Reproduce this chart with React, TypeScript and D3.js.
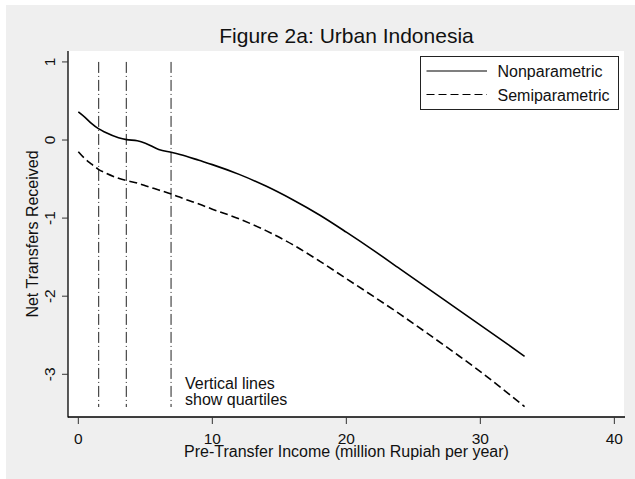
import React from "react";
import * as d3 from "d3";

const incomeGrid = [0, 0.5, 1, 1.5, 2, 3, 3.6, 4.4, 5, 6, 7, 8, 9, 10, 12, 14, 16, 18, 20, 22, 24, 26, 28, 30, 32, 33.3];
const nonparametric = [0.36, 0.29, 0.21, 0.145, 0.1, 0.03, 0.005, -0.01, -0.04, -0.12, -0.16, -0.205, -0.26, -0.315, -0.44, -0.59, -0.765, -0.96, -1.18, -1.41, -1.65, -1.89, -2.13, -2.37, -2.61, -2.77];
const semiparametric = [-0.15, -0.24, -0.31, -0.375, -0.42, -0.49, -0.52, -0.55, -0.585, -0.64, -0.695, -0.76, -0.82, -0.885, -1.01, -1.16, -1.34, -1.55, -1.775, -2.0, -2.23, -2.47, -2.715, -2.965, -3.235, -3.415];
const quartiles = [1.52, 3.58, 6.92];
const xTicks = [0, 10, 20, 30, 40];
const yTicks = [1, 0, -1, -2, -3];
const seriesNames = ["Nonparametric", "Semiparametric"];

const FONT = "'Liberation Sans', Arial, sans-serif";

export default function App() {
  const W = 635, H = 479;
  const left = 68, right = 624, top = 51, bottom = 417;
  const x = d3.scaleLinear().domain([-0.77, 40.72]).range([left, right]);
  const y = d3.scaleLinear().domain([-3.547, 1.14]).range([bottom, top]);
  const line = d3.line<[number, number]>().x(d => x(d[0])).y(d => y(d[1])).curve(d3.curveMonotoneX);
  const np = line(incomeGrid.map((v, i) => [v, nonparametric[i]]) as [number, number][]) || "";
  const sp = line(incomeGrid.map((v, i) => [v, semiparametric[i]]) as [number, number][]) || "";

  return (
    <svg width={W} height={H} style={{ position: "absolute", left: 0, top: 0, display: "block" }} fontFamily={FONT}>
      <rect x={0} y={0} width={W} height={H} fill="#ffffff" />
      <rect x={6} y={5} width={W - 6} height={H - 5} fill="#efefef" />
      <rect x={left} y={top} width={right - left} height={bottom - top} fill="#ffffff" />
      <text x={346.5} y={42.5} textAnchor="middle" fontSize={21} fill="#111">Figure 2a: Urban Indonesia</text>

      {quartiles.map((q, i) => (
        <line key={i} x1={x(q)} x2={x(q)} y1={y(1)} y2={407} stroke="#222" strokeWidth={1} strokeDasharray="11,3,1,3" />
      ))}

      <path d={np} fill="none" stroke="#000" strokeWidth={1.6} />
      <path d={sp} fill="none" stroke="#000" strokeWidth={1.6} strokeDasharray="8,4" />

      {/* axes */}
      <line x1={left} x2={left} y1={top} y2={bottom + 0.5} stroke="#000" strokeWidth={1.3} />
      <line x1={left} x2={right + 1} y1={bottom} y2={bottom} stroke="#000" strokeWidth={1.3} />
      {xTicks.map(t => (
        <g key={t}>
          <line x1={x(t)} x2={x(t)} y1={bottom} y2={bottom + 7} stroke="#333" strokeWidth={1} />
          <text x={x(t)} y={443.5} textAnchor="middle" fontSize={15.5} fill="#111">{t}</text>
        </g>
      ))}
      {yTicks.map(t => (
        <g key={t}>
          <line x1={left - 6} x2={left} y1={y(t)} y2={y(t)} stroke="#333" strokeWidth={1} />
          <text transform={`translate(${54.5},${y(t)}) rotate(-90)`} textAnchor="middle" fontSize={15.5} fill="#111">{t}</text>
        </g>
      ))}
      <text x={346.5} y={457} textAnchor="middle" fontSize={16} fill="#111">Pre-Transfer Income (million Rupiah per year)</text>
      <text transform={`translate(${37.5},${234}) rotate(-90)`} textAnchor="middle" fontSize={16} fill="#111">Net Transfers Received</text>

      <text x={185} y={389} fontSize={16} fill="#111">Vertical lines</text>
      <text x={185} y={405} fontSize={16} fill="#111">show quartiles</text>

      {/* legend */}
      <rect x={420.5} y={56.5} width={198} height={53} fill="#fff" stroke="#222" strokeWidth={1} />
      {seriesNames.map((s, i) => (
        <g key={s}>
          <line x1={426.5} x2={487} y1={71 + i * 23.5} y2={71 + i * 23.5} stroke="#000" strokeWidth={1.2} strokeDasharray={i === 1 ? "8,4" : undefined} />
          <text x={497.5} y={77 + i * 23.5} fontSize={16} fill="#111">{s}</text>
        </g>
      ))}
    </svg>
  );
}
